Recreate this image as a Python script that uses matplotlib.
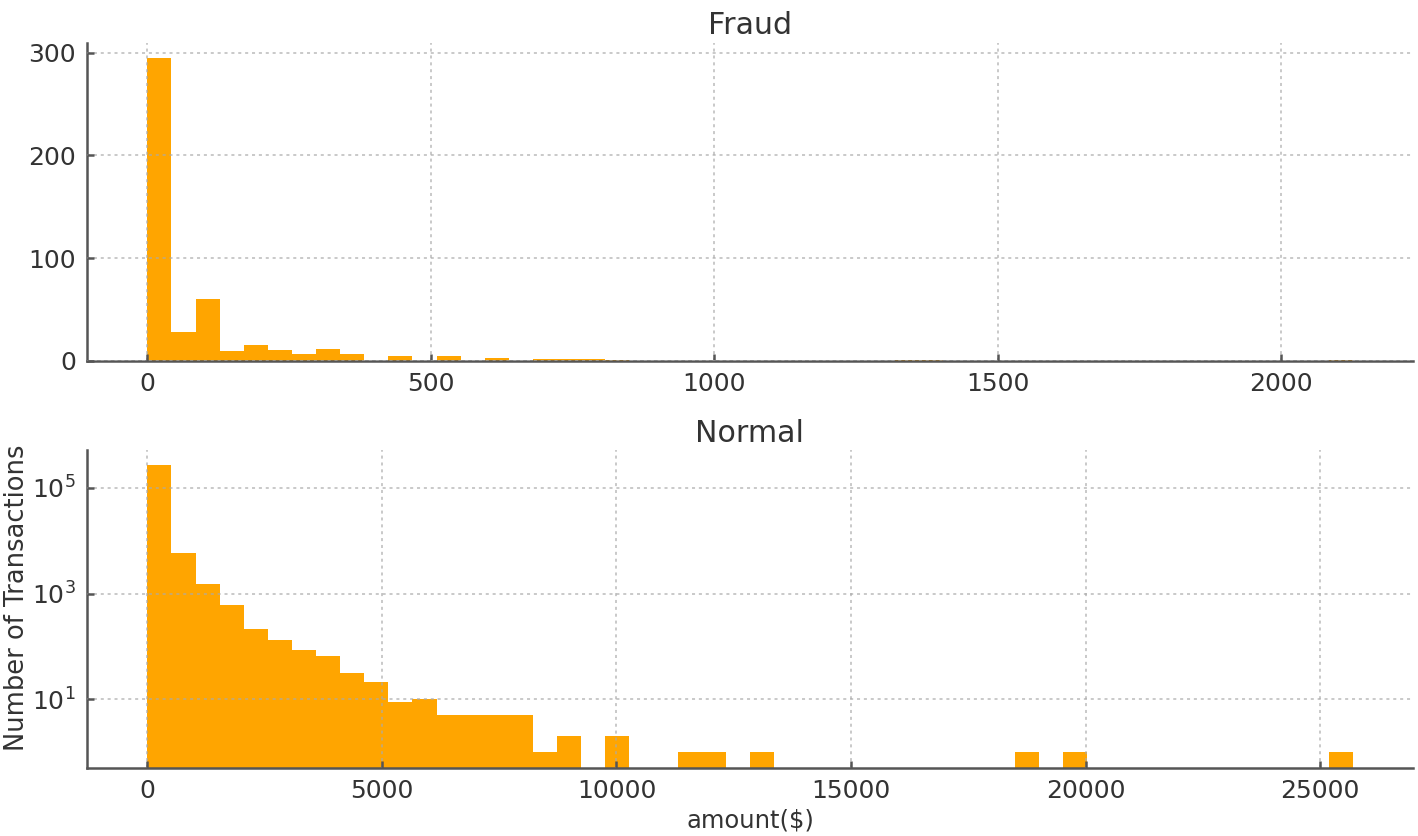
"""
Transaction amount histograms: fraud vs normal
"""

import numpy as np
from matplotlib import pyplot as plt

# histogram counts (50 equal bins from 0 to max amount)
fraud_max_amount = 2125.87
fraud_counts = [295, 28, 60, 9, 15, 10, 7, 11, 7, 0,
                5, 0, 5, 0, 3, 0, 2, 2, 2, 1,
                0, 0, 0, 0, 0, 0, 0, 0, 0, 0,
                0, 1, 1, 0, 0, 0, 0, 0, 0, 0,
                0, 0, 0, 0, 0, 0, 0, 0, 0, 1]

normal_max_amount = 25691.16
normal_counts = [275600, 5900, 1490, 597, 214, 135, 85, 65, 32, 21,
                 9, 10, 5, 5, 5, 5, 1, 2, 0, 2,
                 0, 0, 1, 1, 0, 1, 0, 0, 0, 0,
                 0, 0, 0, 0, 0, 0, 1, 0, 1, 0,
                 0, 0, 0, 0, 0, 0, 0, 0, 0, 1]

bar_color = 'orange'
text_color = '#333333'
spine_color = '#555555'


def style_axes(ax):
    for side in ('top', 'right'):
        ax.spines[side].set_visible(False)
    for side in ('left', 'bottom'):
        ax.spines[side].set_color(spine_color)
        ax.spines[side].set_linewidth(1.8)
    ax.tick_params(direction='in', length=5, width=1.8, colors=spine_color,
                   labelcolor=text_color, labelsize=18, pad=8)
    # grid sits over the bars, faint
    ax.grid(True, linestyle=(0, (2, 2.5)), color='#aaaaaa', linewidth=1.1,
            alpha=0.8)
    ax.set_axisbelow(False)


def draw_hist(ax, counts, max_amount, log=False):
    edges = np.linspace(0, max_amount, len(counts) + 1)
    ax.hist(edges[:-1], bins=edges, weights=counts, color=bar_color, log=log)


fig = plt.figure(figsize=(14.18, 8.36), dpi=100)
ax1 = fig.add_axes([0.0614, 0.5685, 0.935, 0.3804])
ax2 = fig.add_axes([0.0614, 0.0813, 0.935, 0.3804])

# fraud, linear scale
draw_hist(ax1, fraud_counts, fraud_max_amount)
ax1.set_title('Fraud', fontsize=21.6, color=text_color)
style_axes(ax1)

# normal, log scale
draw_hist(ax2, normal_counts, normal_max_amount, log=True)
ax2.set_title('Normal', fontsize=21.6, color=text_color)
ax2.set_ylim(0.5, 5.2e5)
ax2.set_yticks([1e1, 1e3, 1e5])
ax2.minorticks_off()
ax2.set_xlabel('amount($)', fontsize=17.5, color=text_color)
ax2.set_ylabel('Number of Transactions', fontsize=18.5, color=text_color)
ax2.yaxis.set_label_coords(-0.043, 0.535)
style_axes(ax2)

fig.savefig('out.png', dpi=100)
